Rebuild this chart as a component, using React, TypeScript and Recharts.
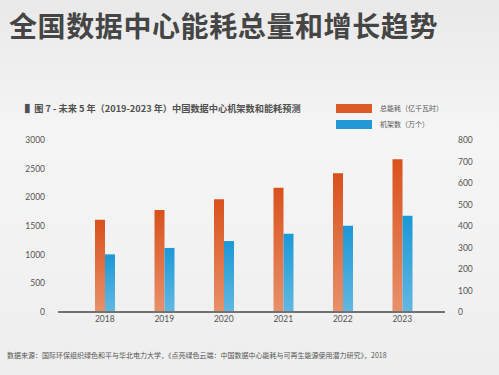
import { Bar, BarChart, XAxis, YAxis } from "recharts";

const years = ["2018", "2019", "2020", "2021", "2022", "2023"];
const energy = [1608, 1779, 1968, 2168, 2420, 2666]; // 总能耗（亿千瓦时）
const racks = [268, 298, 330, 364, 401, 448]; // 机架数（万个）
const leftTicks = [0, 500, 1000, 1500, 2000, 2500, 3000];
const rightTicks = [0, 100, 200, 300, 400, 500, 600, 700, 800];

const chartData = years.map((year, i) => ({
  year,
  energy: energy[i],
  racks: racks[i],
}));

const FONT = '"Noto Sans CJK SC", "Noto Sans", sans-serif';

const legendItems = [
  { label: "总能耗（亿千瓦时）", color: "#dc5a26" },
  { label: "机架数（万个）", color: "#2299d4" },
];

export default function App() {
  return (
    <div
      style={{
        position: "absolute",
        left: 0,
        top: 0,
        width: 499,
        height: 375,
        overflow: "hidden",
        background: "linear-gradient(180deg, #e9e9e9 0%, #f5f5f5 35%, #f2f2f2 70%, #eeeeee 100%)",
        fontFamily: FONT,
      }}
    >
      <div
        style={{
          position: "absolute",
          left: 9,
          top: 5,
          fontSize: 28,
          fontWeight: 700,
          color: "#454545",
          letterSpacing: 0.6,
          whiteSpace: "nowrap",
        }}
      >
        全国数据中心能耗总量和增长趋势
      </div>
      <div
        style={{
          position: "absolute",
          left: 25,
          top: 101,
          fontSize: 9.2,
          fontWeight: 600,
          color: "#505050",
          whiteSpace: "nowrap",
        }}
      >
        ▌图 7 - 未来 5 年（2019-2023 年）中国数据中心机架数和能耗预测
      </div>
      <div style={{ position: "absolute", left: 336, top: 100 }}>
        {legendItems.map((it) => (
          <div key={it.label} style={{ display: "flex", alignItems: "center", height: 16 }}>
            <span style={{ width: 36, height: 9, background: it.color, display: "inline-block" }} />
            <span style={{ marginLeft: 8, fontSize: 7, color: "#555" }}>{it.label}</span>
          </div>
        ))}
      </div>
      <BarChart
        width={499}
        height={375}
        data={chartData}
        margin={{ top: 140, right: 0, bottom: 0, left: 0 }}
        barGap={0}
        barSize={10}
        style={{ position: "absolute", left: 0, top: 0 }}
      >
        <defs>
          <linearGradient id="gEnergy" x1="0" y1="0" x2="0" y2="1">
            <stop offset="0%" stopColor="#d9511c" />
            <stop offset="100%" stopColor="#e8916b" />
          </linearGradient>
          <linearGradient id="gRacks" x1="0" y1="0" x2="0" y2="1">
            <stop offset="0%" stopColor="#1b98d6" />
            <stop offset="100%" stopColor="#62b8e2" />
          </linearGradient>
        </defs>
        <XAxis
          dataKey="year"
          padding={{ left: 17, right: 13 }}
          axisLine={{ stroke: "#727272", strokeWidth: 2 }}
          tickLine={false}
          tickSize={0}
          tickMargin={4}
          interval={0}
          tick={{ fontSize: 8.5, fill: "#555", fontFamily: "Lato, sans-serif" }}
          height={63}
        />
        <YAxis
          yAxisId="left"
          domain={[0, 3000]}
          ticks={leftTicks}
          interval={0}
          width={58}
          axisLine={false}
          tickLine={false}
          tickMargin={7}
          tick={{ fontSize: 8.5, fill: "#555", fontFamily: "Lato, sans-serif" }}
        />
        <YAxis
          yAxisId="right"
          orientation="right"
          domain={[0, 800]}
          ticks={rightTicks}
          interval={0}
          width={54}
          axisLine={false}
          tickLine={false}
          tickMargin={7}
          tick={{ fontSize: 8.5, fill: "#555", fontFamily: "Lato, sans-serif", textAnchor: "start" }}
        />
        <Bar
          yAxisId="left"
          dataKey="energy"
          name="总能耗（亿千瓦时）"
          fill="url(#gEnergy)"
          isAnimationActive={false}
        />
        <Bar
          yAxisId="right"
          dataKey="racks"
          name="机架数（万个）"
          fill="url(#gRacks)"
          isAnimationActive={false}
        />
      </BarChart>
      <div
        style={{
          position: "absolute",
          left: 7,
          top: 350,
          fontSize: 7,
          color: "#555",
          whiteSpace: "nowrap",
        }}
      >
        数据来源：国际环保组织绿色和平与华北电力大学，《点亮绿色云端：中国数据中心能耗与可再生能源使用潜力研究》，2018
      </div>
    </div>
  );
}
